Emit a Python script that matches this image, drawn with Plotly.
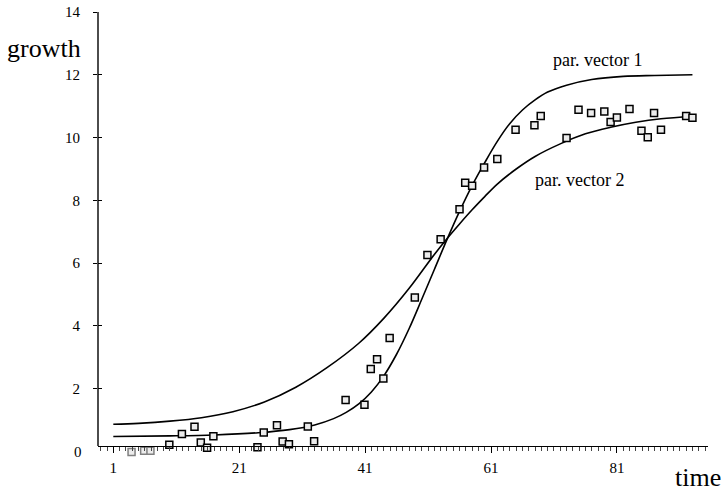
import plotly.graph_objects as go

# observed data
obs_time = [3.9, 5.9, 6.9, 9.9, 11.9, 13.9, 14.9, 15.9, 16.9, 23.9, 24.9, 27.0, 27.9, 28.9,
            31.9, 32.9, 37.9, 40.9, 41.9, 42.9, 43.9, 44.9, 48.9, 50.9, 53.0, 56.0, 56.9,
            58.0, 59.9, 62.0, 64.9, 67.9, 68.9, 73.0, 74.9, 76.9, 79.0, 80.0, 81.0, 83.0,
            84.9, 85.9, 86.9, 88.0, 92.0, 93.0]
obs_growth = [-0.01, 0.03, 0.03, 0.22, 0.56, 0.79, 0.29, 0.12, 0.49, 0.14, 0.61, 0.84, 0.32, 0.23,
              0.80, 0.33, 1.64, 1.49, 2.63, 2.94, 2.33, 3.62, 4.91, 6.26, 6.76, 7.72, 8.56,
              8.47, 9.05, 9.32, 10.25, 10.39, 10.69, 9.99, 10.89, 10.78, 10.83, 10.50, 10.64, 10.91,
              10.22, 10.01, 10.78, 10.25, 10.69, 10.63]

# model curve "par. vector 1"
pv1_time = [1, 10, 17, 24, 29, 33, 36, 38, 40, 42, 44, 46, 48, 50, 52, 54, 56, 58, 60,
            62, 64, 66, 68, 70, 73, 77, 82, 87, 93]
pv1_growth = [0.48, 0.50, 0.53, 0.60, 0.70, 0.85, 1.05, 1.25, 1.52, 1.90, 2.42, 3.10, 3.92,
              4.85, 5.80, 6.75, 7.65, 8.47, 9.20, 9.88, 10.45, 10.88, 11.20, 11.45, 11.67,
              11.85, 11.95, 11.98, 12.00]

# model curve "par. vector 2"
pv2_time = [1, 5, 10, 15, 20, 25, 30, 35, 40, 44, 48, 52, 54, 56, 58, 60, 62, 65, 68,
            72, 76, 80, 84, 88, 93]
pv2_growth = [0.87, 0.90, 0.97, 1.08, 1.27, 1.58, 2.05, 2.68, 3.45, 4.25, 5.20, 6.28, 6.78,
              7.25, 7.70, 8.12, 8.52, 9.00, 9.40, 9.80, 10.12, 10.33, 10.49, 10.60, 10.67]

x_ticks = [1, 21, 41, 61, 81]
y_ticks = [2, 4, 6, 8, 10, 12, 14]

FONT = "Liberation Serif, Times New Roman, serif"

edge_cols = ["#808080" if g < 0.1 else "black" for g in obs_growth]

YMIN, YMAX = -0.236, 14.0
XAXIS_AT = 0.175  # growth value where the time axis line sits


def ypaper(v):
    return (v - YMIN) / (YMAX - YMIN)


fig = go.Figure()
fig.add_trace(go.Scatter(x=pv2_time, y=pv2_growth, mode="lines", line_shape="spline",
                         line=dict(color="black", width=1.6), cliponaxis=False, showlegend=False))
fig.add_trace(go.Scatter(x=pv1_time, y=pv1_growth, mode="lines", line_shape="spline",
                         line=dict(color="black", width=1.6), cliponaxis=False, showlegend=False))
fig.add_trace(go.Scatter(x=obs_time, y=obs_growth, mode="markers", cliponaxis=False,
                         marker=dict(symbol="square", size=7, color="#ececec",
                                     line=dict(color=edge_cols, width=1.5)),
                         showlegend=False))
# invisible trace to carry the overlay y-axis (inside half of crossing ticks)
fig.add_trace(go.Scatter(x=[obs_time[0]], y=[obs_growth[0]], yaxis="y2", mode="markers",
                         marker=dict(opacity=0), showlegend=False, hoverinfo="skip"))

fig.update_layout(
    width=724, height=493,
    margin=dict(l=98, r=16, t=12, b=34),
    paper_bgcolor="white", plot_bgcolor="white",
    font=dict(family=FONT, size=15, color="black"),
    xaxis=dict(range=[-1.43, 95.47], showgrid=False, zeroline=False, automargin=False,
               anchor="free", position=ypaper(XAXIS_AT),
               showline=True, linecolor="black", linewidth=1.4,
               tickmode="array", tickvals=x_ticks, ticks="outside", ticklen=6,
               tickwidth=1, tickcolor="black", ticklabelstandoff=2,
               ticklabeloverflow="allow",
               minor=dict(tick0=1, dtick=1, ticks="outside", ticklen=4,
                          tickwidth=1, tickcolor="#444444")),
    yaxis=dict(range=[YMIN, YMAX], showgrid=False, zeroline=False, automargin=False,
               showline=False,
               tickmode="array", tickvals=y_ticks, ticks="outside", ticklen=4,
               tickwidth=1, tickcolor="black", ticklabelstandoff=10,
               ticklabeloverflow="allow"),
    yaxis2=dict(range=[YMIN, YMAX], overlaying="y", side="left", showgrid=False,
                zeroline=False, showline=False, tickmode="array", tickvals=y_ticks,
                automargin=False, ticks="inside", ticklen=4, tickwidth=1,
                tickcolor="black", showticklabels=False),
    shapes=[
        # growth axis line, from the time axis up to the top tick
        dict(type="line", xref="paper", yref="y", x0=0, x1=0, y0=XAXIS_AT, y1=YMAX,
             line=dict(color="black", width=1.4)),
    ],
    annotations=[
        dict(text="0", xref="paper", x=0, xanchor="right", xshift=-14,
             yref="paper", y=ypaper(0), yanchor="middle", showarrow=False,
             font=dict(size=15)),
        dict(text="growth", xref="paper", x=-0.0885, xanchor="center",
             yref="paper", y=ypaper(12.85), yanchor="middle", showarrow=False,
             font=dict(size=26)),
        dict(text="time", xref="paper", x=0.984, xanchor="center",
             yref="paper", y=ypaper(-0.84), yanchor="middle", showarrow=False,
             font=dict(size=26)),
        dict(text="par. vector 1", x=77.9, y=12.47, xanchor="center", yanchor="middle",
             showarrow=False, font=dict(size=18)),
        dict(text="par. vector 2", x=75.0, y=8.65, xanchor="center", yanchor="middle",
             showarrow=False, font=dict(size=18)),
    ],
)

fig.write_html("out.html", config={"displayModeBar": False},
               post_script="document.body.style.margin='0';document.body.style.padding='0';")
